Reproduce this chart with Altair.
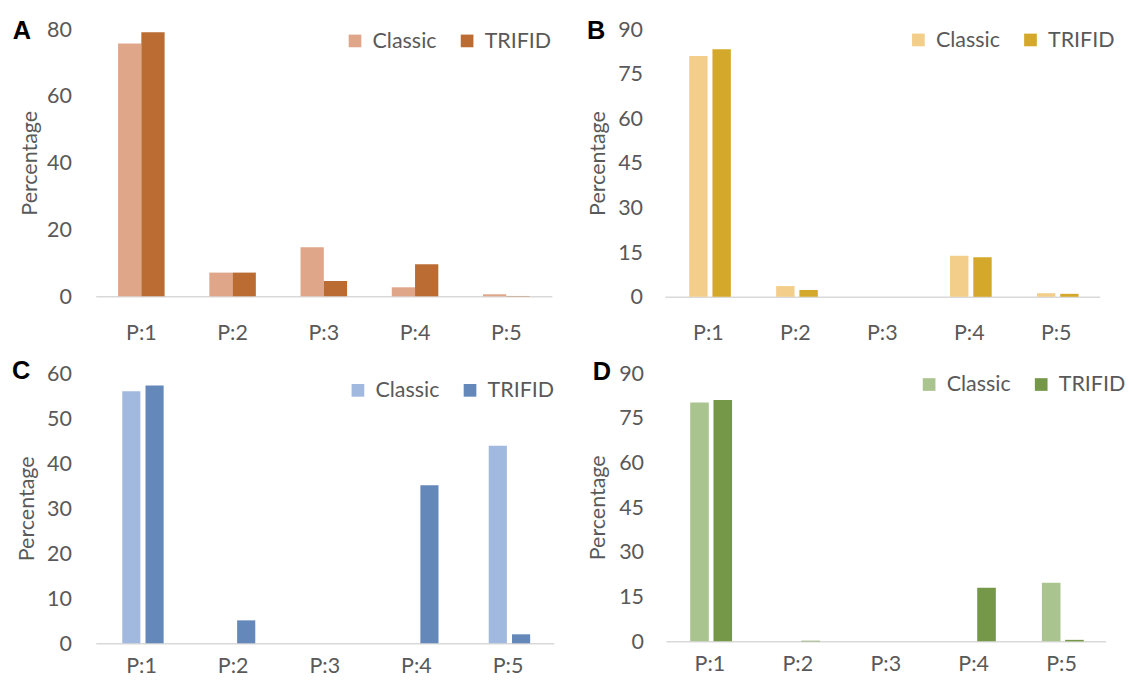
import altair as alt
import pandas as pd

categories = ["P:1", "P:2", "P:3", "P:4", "P:5"]
methods = ["Classic", "TRIFID"]

a_classic = [75.7, 7.1, 14.7, 2.7, 0.6]
a_trifid = [79.1, 7.1, 4.6, 9.6, 0.1]
b_classic = [81.0, 3.6, 0.0, 13.8, 1.2]
b_trifid = [83.3, 2.3, 0.0, 13.3, 1.0]
c_classic = [56.0, 0.0, 0.0, 0.0, 43.9]
c_trifid = [57.3, 5.1, 0.0, 35.1, 2.0]
d_classic = [80.2, 0.0, 0.0, 0.0, 19.7]
d_trifid = [81.0, 0.2, 0.0, 18.0, 0.5]

a_ticks = [0, 20, 40, 60, 80]
b_ticks = [0, 15, 30, 45, 60, 75, 90]
c_ticks = [0, 10, 20, 30, 40, 50, 60]
d_ticks = [0, 15, 30, 45, 60, 75, 90]

a_colors = ["#DFA68A", "#BA6C33"]
b_colors = ["#F2CE8A", "#D4A82A"]
c_colors = ["#A2B9DF", "#6588BA"]
d_colors = ["#AAC48F", "#759748"]

FONT = "Lato"
GREY = "#595959"


def panel(letter, classic, trifid, ticks, colors, width, height, pad_in, bar_frac,
          lab_pad_y, title_pad, lab_pad_x, leg_x, leg_y, letter_dx, letter_dy):
    df = pd.DataFrame({
        "cat": categories * 2,
        "method": [methods[0]] * 5 + [methods[1]] * 5,
        "value": classic + trifid,
    })
    bars = alt.Chart(df).mark_bar(width=alt.RelativeBandSize(bar_frac)).encode(
        x=alt.X("cat:N", sort=categories,
                scale=alt.Scale(paddingInner=pad_in, paddingOuter=pad_in / 2),
                axis=alt.Axis(title=None, labelAngle=0, labelFontSize=22, labelFont=FONT,
                              labelColor=GREY, labelPadding=lab_pad_x, ticks=False,
                              domainColor="#D9D9D9", domainWidth=1.5, grid=False)),
        xOffset=alt.XOffset("method:N", sort=methods,
                            scale=alt.Scale(paddingInner=0, paddingOuter=0)),
        y=alt.Y("value:Q", scale=alt.Scale(domain=[0, ticks[-1]], nice=False),
                axis=alt.Axis(values=ticks, title="Percentage", grid=False, domain=False,
                              ticks=False, labelFontSize=22, labelFont=FONT, labelColor=GREY,
                              labelPadding=lab_pad_y, titleFont=FONT, titleFontSize=22,
                              titleFontWeight="normal", titleColor=GREY,
                              titlePadding=title_pad)),
        color=alt.Color("method:N",
                        scale=alt.Scale(domain=methods, range=colors),
                        legend=alt.Legend(title=None, orient="none", legendX=leg_x,
                                          legendY=leg_y, direction="horizontal",
                                          symbolType="square", symbolSize=169,
                                          symbolStrokeWidth=0,
                                          labelFontSize=22, labelFont=FONT,
                                          labelColor=GREY, labelOffset=7,
                                          columnPadding=20, padding=0)),
    )
    lab = alt.Chart(pd.DataFrame({"t": [letter]})).mark_text(
        font="Liberation Sans", fontSize=26, fontWeight="bold", color="black",
        align="left", baseline="middle"
    ).encode(text="t:N", x=alt.value(letter_dx), y=alt.value(letter_dy))
    return alt.layer(bars, lab).properties(width=width, height=height)


A = panel("A", a_classic, a_trifid, a_ticks, a_colors, 468, 274, 0.49, 1.0,
          25, 5, 27, 255, 1, -85, 2)
B = panel("B", b_classic, b_trifid, b_ticks, b_colors, 446, 274.5, 0.44, 0.79,
          23, 9, 27, 249, 0, -80, 2)
C = panel("C", c_classic, c_trifid, c_ticks, c_colors, 470, 277, 0.46, 0.78,
          25, 8, 13, 258, 6.5, -86, -2.5)
D = panel("D", d_classic, d_trifid, d_ticks, d_colors, 451, 275, 0.44, 0.8,
          23, 10, 13, 259, 0.5, -75, -1.5)

row1 = alt.hconcat(A, B, spacing=35).resolve_scale(color="independent", x="independent", y="independent")
row2 = alt.hconcat(C, D, spacing=32).resolve_scale(color="independent", x="independent", y="independent")

chart = alt.vconcat(row1, row2, spacing=14).resolve_scale(
    color="independent", x="independent", y="independent"
).properties(
    padding={"left": 4, "top": 2, "right": 0, "bottom": 0},
    background="white",
).configure_view(strokeWidth=0, stroke="transparent")

chart.save("out.html", embed_options={"renderer": "svg", "actions": False})
